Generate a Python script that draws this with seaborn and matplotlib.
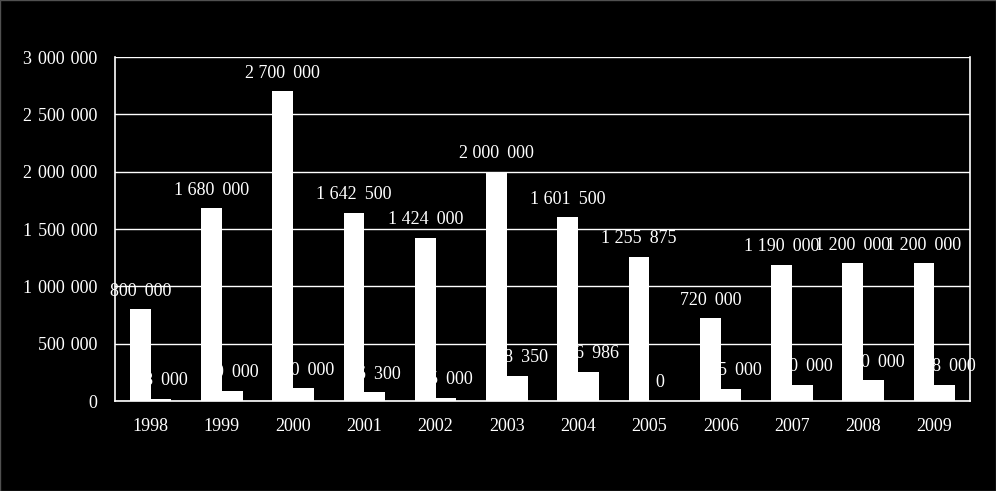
import matplotlib
matplotlib.use("Agg")
import matplotlib.pyplot as plt
import seaborn as sns
import pandas as pd
from matplotlib.patches import Rectangle

years = ["1998", "1999", "2000", "2001", "2002", "2003", "2004", "2005", "2006", "2007", "2008", "2009"]
series_a = [800000, 1680000, 2700000, 1642500, 1424000, 2000000, 1601500, 1255875, 720000, 1190000, 1200000, 1200000]
series_b = [18000, 90000, 110000, 76300, 25000, 218350, 256986, 0, 105000, 140000, 180000, 138000]
y_ticks = [0, 500000, 1000000, 1500000, 2000000, 2500000, 3000000]

df = pd.DataFrame({
    "year": years * 2,
    "value": series_a + series_b,
    "series": ["A"] * len(years) + ["B"] * len(years),
})

sns.set_theme(style="white")
plt.rcParams["font.family"] = ["Liberation Serif", "DejaVu Serif"]

fig = plt.figure(figsize=(9.96, 4.91), dpi=100, facecolor="black")
ax = fig.add_axes([115 / 996, 1 - 401 / 491, 855 / 996, 344 / 491])
ax.set_facecolor("black")

sns.barplot(data=df, x="year", y="value", hue="series", palette=["white", "white"],
            width=0.58, gap=0, saturation=1, ax=ax, legend=False, edgecolor="none", linewidth=0)


def fmt_tick(v):
    return f"{int(v):,}".replace(",", " \u200a")


def fmt_label(v):
    parts = f"{int(v):,}".split(",")
    if len(parts) == 1:
        return parts[0]
    return " ".join(parts[:-1]) + " \u2009" + parts[-1]


for cont in ax.containers:
    for bar in cont:
        h = bar.get_height()
        ax.annotate(fmt_label(h), (bar.get_x() + bar.get_width() / 2, h),
                    xytext=(0, 7), textcoords="offset points", ha="center", va="bottom",
                    color="white", fontsize=13, zorder=5)

ax.set_ylim(0, 3000000)
ax.set_xlim(-0.5, len(years) - 0.5)
ax.set_yticks(y_ticks)
ax.set_yticklabels([fmt_tick(v) for v in y_ticks], color="white", fontsize=13)
ax.set_xticks(range(len(years)))
ax.set_xticklabels(years, color="white", fontsize=13)
ax.set_xlabel("")
ax.set_ylabel("")
ax.yaxis.grid(True, color="white", linewidth=1)
ax.xaxis.grid(False)
ax.set_axisbelow(True)

# x ticks at category boundaries
ax.set_xticks([i - 0.5 for i in range(len(years) + 1)], minor=True)
ax.tick_params(axis="x", which="major", length=0, pad=12)
ax.tick_params(axis="x", which="minor", length=6, width=1, color="white", direction="out")
ax.tick_params(axis="y", which="major", length=4.5, width=1, color="white", direction="out", pad=8)

for side in ["left", "bottom", "right"]:
    ax.spines[side].set_visible(True)
    ax.spines[side].set_color("white")
    ax.spines[side].set_linewidth(1.2)
ax.spines["top"].set_visible(False)

fig.patches.append(Rectangle((0, 0), 1, 1, transform=fig.transFigure, fill=False,
                             edgecolor="#505050", linewidth=1.0))

fig.savefig("out.png", dpi=100, facecolor="black")
